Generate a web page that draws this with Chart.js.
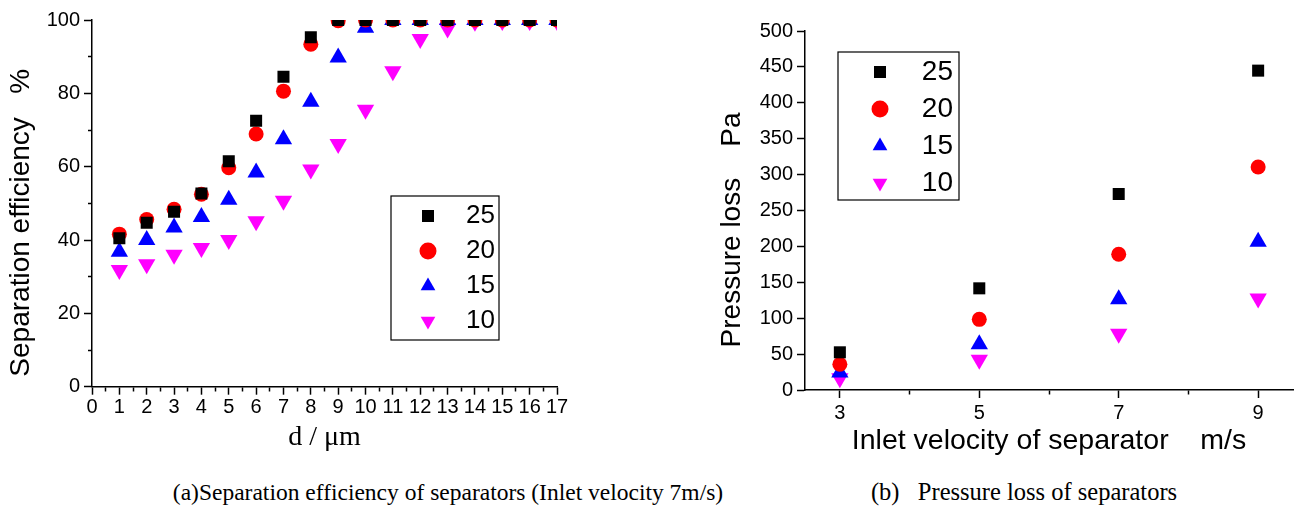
<!DOCTYPE html>
<html lang="en">
<head>
  <meta charset="UTF-8" />
  <title>Separator performance</title>
  <script src="https://cdn.jsdelivr.net/npm/chart.js"></script>
  <style>
    *{margin:0;padding:0;box-sizing:border-box}
    body,html{width:1294px;height:509px;background:#fff;overflow:hidden}
    .wrap{position:absolute;top:0;height:470px}
    .cap{position:absolute;top:479px;width:640px;text-align:center;white-space:pre;
      font-family:"Liberation Serif","Times New Roman",serif;font-size:23.5px;line-height:26px;color:#000}
  </style>
</head>
<body>
  <div class="wrap" style="left:0;width:600px"><canvas id="chartA"></canvas></div>
  <div class="wrap" style="left:690px;width:604px"><canvas id="chartB"></canvas></div>
  <div class="cap" style="left:128px">(a)Separation efficiency of separators (Inlet velocity 7m/s)</div>
  <div class="cap" style="left:704px;font-size:24.5px">(b)   Pressure loss of separators</div>

  <script>
    // (a) separation efficiency vs particle size, one series per legend entry
    const diameters = [1,2,3,4,5,6,7,8,9,10,11,12,13,14,15,16,17];
    const eff25 = [40.5,44.7,47.7,52.7,61.5,72.5,84.5,95.3,100,100,100,100,100,100,100,100,100];
    const eff20 = [41.6,45.6,48.4,52.5,59.7,68.9,80.6,93.4,99.8,100,100,100,100,100,100,100,100];
    const eff15 = [36.8,40.0,43.4,46.3,51.0,58.4,67.5,77.7,89.8,97.9,100,100,100,100,100,100,100];
    const eff10 = [31.8,33.4,36.0,37.8,40.0,45.1,50.7,59.2,66.2,75.5,86.0,94.8,97.7,99.5,99.7,99.7,99.7];

    // (b) pressure loss vs inlet velocity
    const velocities = [3,5,7,9];
    const loss25 = [52.5,141.6,273,444.8];
    const loss20 = [35.8,98.4,189,310.6];
    const loss15 = [24.4,63.8,126.5,206.5];
    const loss10 = [16.5,42,78.5,127.5];
    const velocityTicks = [3,4,5,6,7,8,9];

    const seriesLabels = ['25','20','15','10'];
    const colors = ['#000000','#ff0000','#0000ff','#ff00ff'];
    const styles = ['rect','circle','triangle','triangle'];
    const rotations = [0,0,0,180];
    const radii = [8.5,7.5,10,10];

    Chart.defaults.font.family = '"Liberation Sans", Arial, sans-serif';
    Chart.defaults.color = '#000';

    function makeSets(xs, lists) {
      return lists.map((vals, i) => ({
        label: seriesLabels[i],
        data: xs.map((x, j) => ({x: x, y: vals[j]})),
        backgroundColor: colors[i],
        borderColor: colors[i],
        borderWidth: 0,
        pointStyle: styles[i],
        pointRotation: rotations[i],
        pointRadius: radii[i],
        pointBorderWidth: 0,
        clip: 0
      }));
    }

    // moves the legend inside the plot and draws the frame around it
    const legendBox = {
      id: 'legendBox',
      afterUpdate(chart, args, o) {
        const lg = chart.legend, a = chart.chartArea;
        const h = lg.bottom - lg.top;
        lg.left = a.left + o.itemX;
        lg.top = a.top + o.itemY;
        lg.right = a.left + o.textRight;
        lg.bottom = lg.top + h;
        lg.width = lg.right - lg.left;
        lg.height = h;
      },
      afterDraw(chart, args, o) {
        const ctx = chart.ctx, a = chart.chartArea;
        ctx.save();
        ctx.strokeStyle = '#000';
        ctx.lineWidth = 1.2;
        ctx.strokeRect(a.left + o.x, a.top + o.y, o.w, o.h);
        ctx.restore();
      }
    };

    function axisGrid(isMajor, leftSide) {
      return {
        display: true,
        drawOnChartArea: false,
        drawTicks: true,
        tickLength: 8,
        tickColor: '#000',
        tickWidth: 1.5,
        tickBorderDash: c => isMajor(c.tick.value) ? [] : (leftSide ? [0, 4, 4, 100] : [4, 100])
      };
    }
    const border = {display: true, color: '#000', width: 1.5};

    new Chart(document.getElementById('chartA'), {
      type: 'scatter',
      data: {datasets: makeSets(diameters, [eff25, eff20, eff15, eff10])},
      options: {
        responsive: true,
        maintainAspectRatio: false,
        animation: false,
        layout: {autoPadding: false, padding: {left: 0, top: 20, right: 43, bottom: 0}},
        plugins: {
          tooltip: {enabled: false},
          legend: {
            position: 'chartArea',
            align: 'start',
            labels: {
              usePointStyle: true, boxWidth: 12, boxHeight: 12, padding: 9,
              textAlign: 'right', font: {size: 26}, color: '#000'
            }
          },
          legendBox: {itemX: 321, itemY: 174, textRight: 403, x: 299, y: 176, w: 108, h: 144}
        },
        scales: {
          x: {
            type: 'linear', min: 0, max: 17,
            border: border,
            grid: axisGrid(v => Number.isInteger(v), false),
            ticks: {
              stepSize: 0.5, autoSkip: false, maxRotation: 0, padding: 1,
              font: {size: 20}, color: '#000',
              callback: v => Number.isInteger(v) ? v : ''
            },
            title: {
              display: true, text: 'd / μm', color: '#000',
              font: {family: '"Liberation Serif", "Times New Roman", serif', size: 28},
              padding: {top: 0, bottom: 16}
            },
            afterFit: s => { s.height = 83.3; }
          },
          y: {
            type: 'linear', min: 0, max: 100,
            border: border,
            grid: axisGrid(v => v % 20 === 0, true),
            ticks: {
              stepSize: 10, padding: 4, font: {size: 20}, color: '#000',
              callback: v => v % 20 === 0 ? v : ''
            },
            title: {
              display: true, text: 'Separation efficiency   %     ', color: '#000',
              font: {size: 28}, padding: {top: 4, bottom: 0}
            },
            afterFit: s => { s.width = 92; }
          }
        }
      },
      plugins: [legendBox]
    });

    new Chart(document.getElementById('chartB'), {
      type: 'scatter',
      data: {datasets: makeSets(velocities, [loss25, loss20, loss15, loss10])},
      options: {
        responsive: true,
        maintainAspectRatio: false,
        animation: false,
        layout: {autoPadding: false, padding: {left: 0, top: 31, right: 1, bottom: 0}},
        plugins: {
          tooltip: {enabled: false},
          legend: {
            position: 'chartArea',
            align: 'start',
            labels: {
              usePointStyle: true, boxWidth: 12, boxHeight: 12, padding: 9,
              textAlign: 'right', font: {size: 28}, color: '#000'
            }
          },
          legendBox: {itemX: 60, itemY: 18, textRight: 148, x: 33, y: 21, w: 121, h: 148}
        },
        scales: {
          x: {
            type: 'linear', min: 2.5, max: 9.5,
            border: border,
            grid: axisGrid(v => v % 2 === 1, false),
            afterBuildTicks: s => { s.ticks = velocityTicks.map(v => ({value: v})); },
            ticks: {
              autoSkip: false, maxRotation: 0, padding: 3,
              font: {size: 20}, color: '#000',
              callback: v => v % 2 === 1 ? v : ''
            },
            title: {
              display: true, text: 'Inlet velocity of separator    m/s', color: '#000',
              font: {size: 28.5}, padding: {top: 0, bottom: 12}
            },
            afterFit: s => { s.height = 80; }
          },
          y: {
            type: 'linear', min: 0, max: 500,
            border: border,
            grid: axisGrid(v => v % 50 === 0, true),
            ticks: {
              stepSize: 25, padding: 4, font: {size: 20}, color: '#000',
              callback: v => v % 50 === 0 ? v : ''
            },
            title: {
              display: true, text: 'Pressure loss    Pa     ', color: '#000',
              font: {size: 28}, padding: {top: 25, bottom: 0}
            },
            afterFit: s => { s.width = 115; }
          }
        }
      },
      plugins: [legendBox]
    });
  </script>
</body>
</html>
